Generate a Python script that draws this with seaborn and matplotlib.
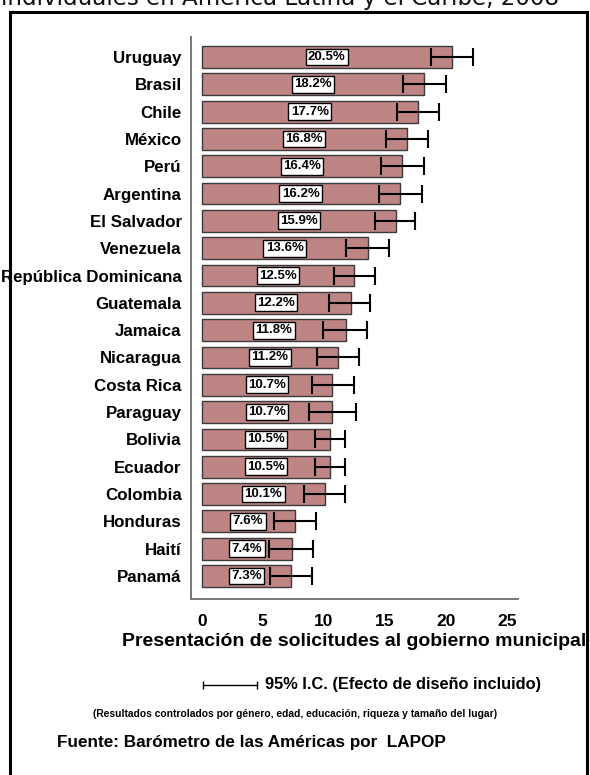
import pandas as pd
import matplotlib.pyplot as plt
import seaborn as sns
from matplotlib.patches import Rectangle
from matplotlib.lines import Line2D

countries = ["Uruguay", "Brasil", "Chile", "México", "Perú", "Argentina", "El Salvador",
             "Venezuela", "República Dominicana", "Guatemala", "Jamaica", "Nicaragua",
             "Costa Rica", "Paraguay", "Bolivia", "Ecuador", "Colombia", "Honduras",
             "Haití", "Panamá"]
values = [20.5, 18.2, 17.7, 16.8, 16.4, 16.2, 15.9, 13.6, 12.5, 12.2, 11.8, 11.2,
          10.7, 10.7, 10.5, 10.5, 10.1, 7.6, 7.4, 7.3]
ci_low = [18.8, 16.5, 16.0, 15.1, 14.7, 14.5, 14.2, 11.85, 10.8, 10.45, 9.95, 9.45,
          9.0, 8.75, 9.3, 9.3, 8.4, 5.95, 5.55, 5.6]
ci_high = [22.2, 20.0, 19.4, 18.5, 18.2, 18.0, 17.5, 15.35, 14.2, 13.8, 13.55, 12.9,
           12.5, 12.6, 11.75, 11.7, 11.75, 9.35, 9.15, 9.0]
xticks = [0, 5, 10, 15, 20, 25]

title = "individuales en América Latina y el Caribe, 2008"
xlabel = "Presentación de solicitudes al gobierno municipal"
ci_note = "95% I.C. (Efecto de diseño incluido)"
controls = "(Resultados controlados por género, edad, educación, riqueza y tamaño del lugar)"
source = "Fuente: Barómetro de las Américas por  LAPOP"

df = pd.DataFrame({"pais": countries, "valor": values, "lo": ci_low, "hi": ci_high})

sns.set_style("white")
plt.rcParams["font.family"] = ["Liberation Sans", "DejaVu Sans"]
plt.rcParams["text.color"] = "black"
plt.rcParams["axes.labelcolor"] = "black"
plt.rcParams["xtick.labelcolor"] = "black"
plt.rcParams["ytick.labelcolor"] = "black"

W, H = 590, 775
fig = plt.figure(figsize=(W / 100, H / 100), dpi=100)
ax = fig.add_axes([190.7 / W, 1 - 599 / H, (518 - 190.7) / W, (599 - 37) / H])

bar_color = "#BF8585"
sns.barplot(data=df, x="valor", y="pais", orient="h", color=bar_color, saturation=1,
            width=0.8, edgecolor="#3a3a3a", linewidth=1.0, ax=ax)

ypos = range(len(df))
ax.errorbar(df["valor"], ypos,
            xerr=[df["valor"] - df["lo"], df["hi"] - df["valor"]],
            fmt="none", ecolor="black", elinewidth=1.5, capsize=6.5, capthick=1.5, zorder=5)

for i, v in enumerate(df["valor"]):
    ax.text(v / 2, i, f"{v:.1f}%", ha="center", va="center", fontsize=9.5,
            fontweight="bold", zorder=6,
            bbox=dict(boxstyle="square,pad=0.18", fc="white", ec="black", lw=1.0))

ax.set_xlim(-0.9, 25.9)
ax.set_ylim(19.84, -0.73)
ax.set_xticks(xticks)
ax.set_xticklabels([str(t) for t in xticks], fontsize=12.5, fontweight="bold")
ax.set_yticklabels(countries, fontsize=12.2, fontweight="bold")
ax.set_ylabel("")
ax.set_xlabel(xlabel, fontsize=14, fontweight="bold", labelpad=3)

sns.despine(ax=ax)
for s in ["left", "bottom"]:
    ax.spines[s].set_color("#777777")
    ax.spines[s].set_linewidth(1.4)
ax.tick_params(axis="y", length=4.5, width=0.8, color="#555555", pad=2)
ax.tick_params(axis="x", length=4.5, width=0.9, color="#333333", pad=6)

# frame and top (cropped) title
fig.add_artist(Rectangle((10 / W, -0.05), (587 - 10) / W, 1.05 - 12 / H,
                         transform=fig.transFigure, fill=False, ec="black", lw=2.2))
fig.text(1 / W, 1 - 5 / H, title, fontsize=16.6, family="DejaVu Sans",
         color="#111111", ha="left", va="baseline")

# CI legend
y_leg = 1 - 685 / H
fig.add_artist(Line2D([203 / W, 257 / W], [y_leg, y_leg], transform=fig.transFigure,
                      color="black", lw=1.0, marker="|", markersize=6,
                      markeredgewidth=1.0))
fig.text(265 / W, y_leg, ci_note, fontsize=11.8, fontweight="bold", va="center", ha="left")
fig.text(295 / W, 1 - 714 / H, controls, fontsize=7.4, fontweight="bold",
         va="center", ha="center")
fig.text(57 / W, 1 - 742 / H, source, fontsize=12.3, fontweight="bold",
         va="center", ha="left")

fig.savefig("out.png", dpi=100)
